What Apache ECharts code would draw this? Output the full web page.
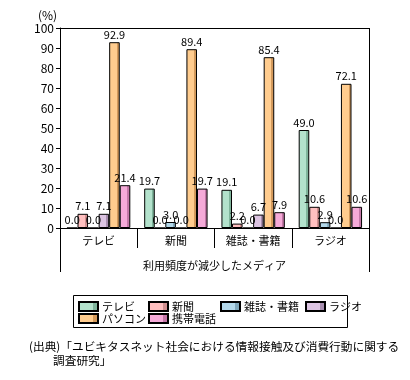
<!DOCTYPE html>
<html><head><meta charset="utf-8">
<script src="https://cdn.jsdelivr.net/npm/echarts@6/dist/echarts.min.js"></script>
<style>html,body{margin:0;padding:0;background:#fff}#c{width:410px;height:380px}</style>
</head><body><div id="c"></div>
<script>
const categories = ['テレビ', '新聞', '雑誌・書籍', 'ラジオ'];
const seriesNames = ['テレビ', '新聞', '雑誌・書籍', 'ラジオ', 'パソコン', '携帯電話'];
const tvValues     = [0.0, 19.7, 19.1, 49.0];
const paperValues  = [7.1, 0.0, 2.2, 10.6];
const magValues    = [0.0, 3.0, 0.0, 2.9];
const radioValues  = [7.1, 0.0, 6.7, 0.0];
const pcValues     = [92.9, 89.4, 85.4, 72.1];
const mobileValues = [21.4, 19.7, 7.9, 10.6];
const yTicks = [0, 10, 20, 30, 40, 50, 60, 70, 80, 90, 100];

const allValues = [tvValues, paperValues, magValues, radioValues, pcValues, mobileValues];
const baseColors = ['#b3e2cc', '#ffbfbf', '#b3d8ea', '#dcc4e2', '#ffcc8e', '#f5aad8'];
const darkColors = ['#7fb49b', '#d08f8f', '#7fa7bb', '#a88fb0', '#d49a5c', '#c478a8'];
const FONT = '"Noto Sans CJK JP", sans-serif';

function fill(i) {
  return new echarts.graphic.LinearGradient(0, 0, 1, 0, [
    {offset: 0, color: baseColors[i]},
    {offset: 0.72, color: baseColors[i]},
    {offset: 0.73, color: darkColors[i]},
    {offset: 1, color: darkColors[i]}
  ]);
}

const series = seriesNames.map((n, i) => ({
  name: n, type: 'bar', data: allValues[i],
  barGap: '0%', barCategoryGap: '18%',
  itemStyle: {color: fill(i), borderColor: '#000', borderWidth: 1},
  label: {show: true, position: 'top', distance: 2, color: '#000', fontSize: 11, fontFamily: FONT,
          formatter: p => p.value.toFixed(1)},
  emphasis: {disabled: true}
}));

const legendPos = [[78, 301], [148, 301], [220, 301], [305, 301], [78, 313], [148, 313]];
const legends = seriesNames.map((n, i) => ({
  data: [n], left: legendPos[i][0], top: legendPos[i][1], padding: 0,
  itemWidth: 19, itemHeight: 9, itemGap: 0, icon: 'rect',
  textStyle: {fontSize: 11, color: '#000', fontFamily: FONT, padding: [0, 0, 0, -1]},
  selectedMode: false
}));

const chart = echarts.init(document.getElementById('c'), null, {renderer: 'canvas'});
chart.setOption({
  animation: false,
  backgroundColor: '#fff',
  textStyle: {fontFamily: FONT},
  grid: {left: 60, right: 41, top: 28, bottom: 152},
  legend: legends,
  xAxis: {
    type: 'category', data: categories,
    axisLine: {lineStyle: {color: '#000', width: 1}},
    axisTick: {show: true, length: 20, interval: 0, lineStyle: {color: '#000'}},
    axisLabel: {color: '#000', fontSize: 11, margin: 7, fontFamily: FONT, interval: 0},
    name: '利用頻度が減少したメディア', nameLocation: 'middle', nameGap: 32,
    nameTextStyle: {color: '#000', fontSize: 11, fontFamily: FONT}
  },
  yAxis: {
    type: 'value', min: 0, max: 100, interval: 10,
    axisLine: {show: true, lineStyle: {color: '#000'}},
    axisTick: {show: true, length: 4, lineStyle: {color: '#000'}},
    axisLabel: {color: '#000', fontSize: 12, margin: 6, fontFamily: FONT,
                formatter: v => yTicks.includes(v) ? String(v) : ''},
    splitLine: {show: false}
  },
  graphic: [
    {type: 'line', shape: {x1: 60, y1: 28.5, x2: 369, y2: 28.5}, style: {stroke: '#000', lineWidth: 1}},
    {type: 'line', shape: {x1: 369.5, y1: 28, x2: 369.5, y2: 272}, style: {stroke: '#000', lineWidth: 1}},
    {type: 'line', shape: {x1: 60.5, y1: 228, x2: 60.5, y2: 272}, style: {stroke: '#000', lineWidth: 1}},
    {type: 'text', left: 38, top: 9, style: {text: '(%)', fontSize: 12, fill: '#000', fontFamily: FONT}},
    {type: 'rect', shape: {x: 73.5, y: 295.5, width: 274, height: 32}, style: {fill: 'none', stroke: '#000', lineWidth: 1}},
    {type: 'text', left: 29, top: 341, style: {text: '(出典)「ユビキタスネット社会における情報接触及び消費行動に関する', fontSize: 11.7, fill: '#000', fontFamily: FONT}},
    {type: 'text', left: 53, top: 355, style: {text: '調査研究」', fontSize: 11.7, fill: '#000', fontFamily: FONT}}
  ],
  series: series
});
</script></body></html>
